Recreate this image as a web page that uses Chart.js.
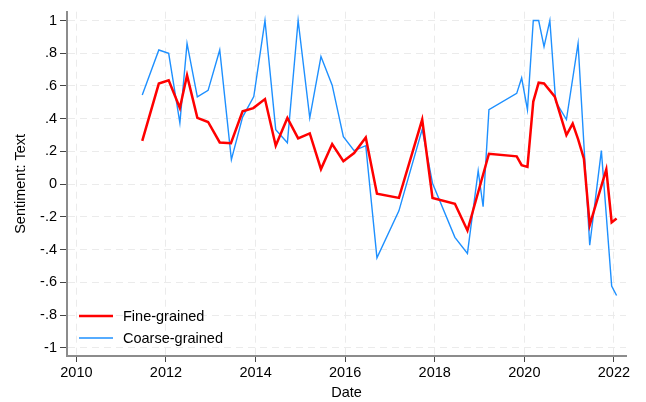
<!DOCTYPE html>
<html lang="en">

<head>
    <meta charset="UTF-8" />
    <title>Sentiment: Text</title>
    <script src="https://cdn.jsdelivr.net/npm/chart.js@4.4.0/dist/chart.umd.min.js"></script>
    <style>
        body { margin: 0; background: #fff; }
    </style>
</head>

<body>
    <canvas id="myChart" width="646" height="402"></canvas>
</body>
<script>
// fecha en años decimales
var fineDates = [2011.47, 2011.84, 2012.06, 2012.31, 2012.47, 2012.70, 2012.94, 2013.20, 2013.45, 2013.71,
    2013.95, 2014.21, 2014.45, 2014.71, 2014.95, 2015.21, 2015.46, 2015.71, 2015.96, 2016.20,
    2016.46, 2016.71, 2017.20, 2017.72, 2017.95, 2018.45, 2018.73, 2019.21, 2019.83, 2019.94,
    2020.07, 2020.20, 2020.32, 2020.44, 2020.68, 2020.94, 2021.08, 2021.20, 2021.33, 2021.46,
    2021.83, 2021.95, 2022.06];
var fineValues = [0.265, 0.615, 0.635, 0.465, 0.665, 0.405, 0.38, 0.255, 0.25, 0.445,
    0.465, 0.52, 0.235, 0.405, 0.28, 0.31, 0.092, 0.245, 0.14, 0.19,
    0.285, -0.058, -0.084, 0.395, -0.084, -0.12, -0.283, 0.186, 0.17, 0.116,
    0.106, 0.505, 0.62, 0.615, 0.535, 0.30, 0.37, 0.275, 0.156, -0.25,
    0.09, -0.234, -0.21];

var coarseDates = [2011.47, 2011.84, 2012.06, 2012.31, 2012.47, 2012.70, 2012.94, 2013.20, 2013.46, 2013.71,
    2013.96, 2014.21, 2014.45, 2014.71, 2014.95, 2015.21, 2015.46, 2015.71, 2015.96, 2016.20,
    2016.46, 2016.71, 2017.20, 2017.72, 2017.95, 2018.45, 2018.73, 2018.97, 2019.08, 2019.21,
    2019.83, 2019.94, 2020.07, 2020.20, 2020.32, 2020.44, 2020.57, 2020.70, 2020.94, 2021.20,
    2021.46, 2021.72, 2021.95, 2022.06];
var coarseValues = [0.545, 0.82, 0.80, 0.375, 0.86, 0.533, 0.573, 0.82, 0.15, 0.41,
    0.535, 1.0, 0.333, 0.253, 1.0, 0.405, 0.78, 0.605, 0.29, 0.205,
    0.235, -0.45, -0.163, 0.335, 0.006, -0.325, -0.423, 0.082, -0.138, 0.455,
    0.555, 0.649, 0.455, 1.0, 1.0, 0.84, 1.0, 0.505, 0.395, 0.86,
    -0.373, 0.205, -0.623, -0.68];

var xTicks = [2010, 2012, 2014, 2016, 2018, 2020, 2022];
var yTicks = [1, 0.8, 0.6, 0.4, 0.2, 0, -0.2, -0.4, -0.6, -0.8, -1];
var yTickLabels = ['1', '.8', '.6', '.4', '.2', '0', '-.2', '-.4', '-.6', '-.8', '-1'];

var fuente = { family: '"Liberation Sans", Arial, sans-serif', size: 14.5 };

function puntos(fechas, valores) {
    var p = [];
    for (var i = 0; i < fechas.length; i++) {
        p.push({ x: fechas[i], y: valores[i] });
    }
    return p;
}

// leyenda dentro del área del gráfico, abajo a la izquierda
var leyenda = {
    id: 'leyenda',
    afterDraw: function(chart) {
        var ctx = chart.ctx;
        var area = chart.chartArea;
        var filas = [area.bottom - 40, area.bottom - 18];
        ctx.save();
        chart.data.datasets.forEach(function(ds, i) {
            ctx.strokeStyle = ds.borderColor;
            ctx.lineWidth = ds.borderWidth;
            ctx.beginPath();
            ctx.moveTo(area.left + 12, filas[i]);
            ctx.lineTo(area.left + 46, filas[i]);
            ctx.stroke();
            ctx.fillStyle = '#000';
            ctx.font = fuente.size + 'px ' + fuente.family;
            ctx.textBaseline = 'middle';
            ctx.fillText(ds.label, area.left + 56, filas[i] + 1);
        });
        ctx.restore();
    }
};

var ctx = document.getElementById('myChart').getContext('2d');
var myChart = new Chart(ctx, {
    type: 'line',
    data: {
        datasets: [{
                label: 'Fine-grained',
                data: puntos(fineDates, fineValues),
                borderColor: 'rgb(255, 0, 0)',
                borderWidth: 2.5,
                pointRadius: 0,
                fill: false
            },
            {
                label: 'Coarse-grained',
                data: puntos(coarseDates, coarseValues),
                borderColor: 'rgb(30, 144, 255)',
                borderWidth: 1.4,
                pointRadius: 0,
                fill: false
            }
        ]
    },
    options: {
        responsive: false,
        animation: false,
        layout: { padding: { top: 5, right: 20, bottom: 0, left: 0 } },
        plugins: {
            legend: { display: false },
            tooltip: { enabled: false }
        },
        scales: {
            x: {
                type: 'linear',
                min: 2009.79,
                max: 2022.27,
                afterBuildTicks: function(scale) {
                    scale.ticks = xTicks.map(function(v) { return { value: v }; });
                },
                afterFit: function(scale) { scale.height = 46; },
                ticks: {
                    color: '#000',
                    font: fuente,
                    padding: 2,
                    maxRotation: 0,
                    callback: function(v) { return String(v); }
                },
                grid: {
                    color: '#ebebeb',
                    lineWidth: 1,
                    tickLength: 6,
                    tickColor: '#444',
                    tickWidth: 1
                },
                border: { color: '#8c8c8c', width: 2, dash: [7, 5] },
                title: { display: true, text: 'Date', color: '#000', font: fuente, padding: { top: 0, bottom: 0 } }
            },
            y: {
                min: -1.05,
                max: 1.054,
                afterBuildTicks: function(scale) {
                    scale.ticks = yTicks.map(function(v) { return { value: v }; });
                },
                afterFit: function(scale) { scale.width = 67; },
                ticks: {
                    color: '#000',
                    font: fuente,
                    padding: 3,
                    callback: function(v) {
                        for (var i = 0; i < yTicks.length; i++) {
                            if (Math.abs(yTicks[i] - v) < 1e-6) return yTickLabels[i];
                        }
                        return '';
                    }
                },
                grid: {
                    color: '#ebebeb',
                    lineWidth: 1,
                    tickLength: 7,
                    tickColor: '#444',
                    tickWidth: 1
                },
                border: { color: '#8c8c8c', width: 2, dash: [7, 5] },
                title: { display: true, text: 'Sentiment: Text', color: '#000', font: fuente, padding: { top: 12, bottom: 0 } }
            }
        }
    },
    plugins: [leyenda]
});
</script>

</html>
